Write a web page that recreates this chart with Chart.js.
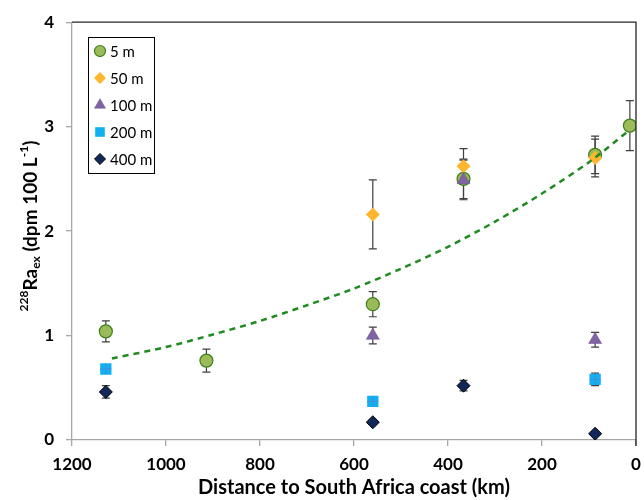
<!DOCTYPE html>
<html lang="en">
<head>
    <meta charset="UTF-8">
    <title>228Ra vs distance</title>
    <script src="https://cdn.jsdelivr.net/npm/chart.js"></script>
    <style>
        body { margin: 0; padding: 0; background: #fff; }
        .wrap { width: 644px; height: 500px; position: relative; }
    </style>
</head>
<body>
    <div class="wrap"><canvas id="chart"></canvas></div>

    <script>
        // distances (km) and 228Ra_ex values
        const dist5 = [1128, 914, 560, 367, 87, 13];
        const ra5 = [1.04, 0.76, 1.30, 2.50, 2.73, 3.01];
        const err5 = [0.10, 0.11, 0.12, 0.19, 0.18, 0.24];

        const dist50 = [560, 367, 87];
        const ra50 = [2.16, 2.62, 2.70];
        const err50 = [0.33, 0.17, 0.18];

        const dist100 = [560, 367, 87];
        const ra100 = [1.00, 2.49, 0.96];
        const err100 = [0.08, 0.19, 0.07];

        const dist200 = [1128, 560, 87];
        const ra200 = [0.68, 0.37, 0.58];
        const err200 = [0.04, 0.03, 0.06];

        const dist400 = [1128, 560, 367, 87];
        const ra400 = [0.46, 0.17, 0.52, 0.06];
        const err400 = [0.06, 0.02, 0.05, 0.02];

        // dashed trend line
        const trendDist = [1115, 1000, 900, 800, 700, 600, 500, 400, 300, 200, 100, 13];
        const trendRa = [0.78, 0.89, 1.01, 1.14, 1.29, 1.45, 1.64, 1.85, 2.09, 2.36, 2.66, 2.97];

        const xTicks = [1200, 1000, 800, 600, 400, 200, 0];
        const yTicks = [0, 1, 2, 3, 4];

        function pts(xs, ys, es) {
            return xs.map((x, i) => ({ x: x, y: ys[i], e: es ? es[i] : 0 }));
        }

        const series = [
            { label: '5 m', data: pts(dist5, ra5, err5), style: 'circle', bg: '#9BBB59', border: '#3C7F1C', r: 6.5, bw: 1.2, order: 5 },
            { label: '50 m', data: pts(dist50, ra50, err50), style: 'rectRot', bg: '#FFB52E', border: '#FFB52E', r: 7, bw: 0, order: 4 },
            { label: '100 m', data: pts(dist100, ra100, err100), style: 'triangle', bg: '#8064A2', border: '#6A4E8E', r: 7.5, bw: 0.5, order: 3 },
            { label: '200 m', data: pts(dist200, ra200, err200), style: 'rect', bg: '#12B0F2', border: '#12B0F2', r: 8, bw: 0, order: 2 },
            { label: '400 m', data: pts(dist400, ra400, err400), style: 'rectRot', bg: '#10295A', border: '#000000', r: 6.5, bw: 1, order: 1 }
        ];

        const datasets = series.map(s => ({
            label: s.label,
            data: s.data,
            pointStyle: s.style,
            pointRadius: s.r,
            pointBackgroundColor: s.bg,
            pointBorderColor: s.border,
            pointBorderWidth: s.bw,
            backgroundColor: s.bg,
            borderColor: s.border,
            showLine: false,
            order: s.order,
            errorBars: true
        }));

        datasets.push({
            label: 'trend',
            data: pts(trendDist, trendRa),
            showLine: true,
            borderColor: '#1F8B1F',
            borderWidth: 2.5,
            borderDash: [6, 5],
            pointRadius: 0,
            fill: false,
            tension: 0.3,
            order: 0
        });

        const errorBarPlugin = {
            id: 'errorBars',
            beforeDatasetsDraw(chart) {
                const ctx = chart.ctx;
                const x = chart.scales.x, y = chart.scales.y;
                ctx.save();
                ctx.strokeStyle = '#3F3F3F';
                ctx.lineWidth = 1.2;
                chart.data.datasets.forEach(ds => {
                    if (!ds.errorBars) return;
                    ds.data.forEach(p => {
                        if (!p.e) return;
                        const px = x.getPixelForValue(p.x);
                        const top = y.getPixelForValue(p.y + p.e);
                        const bot = y.getPixelForValue(p.y - p.e);
                        ctx.beginPath();
                        ctx.moveTo(px, top); ctx.lineTo(px, bot);
                        ctx.moveTo(px - 4, top); ctx.lineTo(px + 4, top);
                        ctx.moveTo(px - 4, bot); ctx.lineTo(px + 4, bot);
                        ctx.stroke();
                    });
                });
                ctx.restore();
            },
            afterDatasetsDraw(chart) {
                // little cross inside the 200 m squares
                const ctx = chart.ctx;
                const meta = chart.getDatasetMeta(3);
                ctx.save();
                ctx.strokeStyle = '#3E8FD8';
                ctx.lineWidth = 1;
                meta.data.forEach(el => {
                    ctx.beginPath();
                    ctx.moveTo(el.x - 5.5, el.y); ctx.lineTo(el.x + 5.5, el.y);
                    ctx.moveTo(el.x, el.y - 5.5); ctx.lineTo(el.x, el.y + 5.5);
                    ctx.stroke();
                });
                ctx.restore();
            }
        };

        const framePlugin = {
            id: 'frame',
            afterDraw(chart) {
                const ctx = chart.ctx;
                const a = chart.chartArea;
                ctx.save();
                // dark top and right border of the plot
                ctx.strokeStyle = '#262626';
                ctx.lineWidth = 1.3;
                ctx.beginPath();
                ctx.moveTo(a.left, a.top);
                ctx.lineTo(a.right, a.top);
                ctx.lineTo(a.right, a.bottom + 6);
                ctx.stroke();

                // legend box
                const lx = 88, ly = 37, lw = 66, lh = 136;
                ctx.fillStyle = '#fff';
                ctx.fillRect(lx, ly, lw, lh);
                ctx.strokeStyle = '#000';
                ctx.lineWidth = 1;
                ctx.strokeRect(lx + 0.5, ly + 0.5, lw, lh);
                ctx.font = '15px Lato';
                ctx.textBaseline = 'middle';
                series.forEach((s, i) => {
                    const cy = 51 + i * 27;
                    ctx.fillStyle = s.bg;
                    ctx.strokeStyle = s.border;
                    ctx.lineWidth = s.bw;
                    Chart.helpers.drawPoint(ctx, {
                        pointStyle: s.style,
                        radius: s.r * 0.85,
                        borderWidth: s.bw,
                        rotation: 0
                    }, 100, cy);
                    ctx.fillStyle = '#000';
                    ctx.fillText(s.label, 110, cy + 1);
                });

                // y axis title with super/subscripts
                const parts = [
                    { t: '228', f: 'bold 12px Lato', dy: -7 },
                    { t: 'Ra', f: 'bold 19px Lato', dy: 0 },
                    { t: 'ex', f: 'bold 12px Lato', dy: 5 },
                    { t: ' (dpm 100 L', f: 'bold 19px Lato', dy: 0 },
                    { t: '-1', f: 'bold 12px Lato', dy: -7 },
                    { t: ')', f: 'bold 19px Lato', dy: 0 }
                ];
                let total = 0;
                parts.forEach(p => { ctx.font = p.f; p.w = ctx.measureText(p.t).width; total += p.w; });
                ctx.translate(31, 226);
                ctx.rotate(-Math.PI / 2);
                ctx.fillStyle = '#000';
                ctx.textBaseline = 'middle';
                let cx = -total / 2;
                parts.forEach(p => {
                    ctx.font = p.f;
                    ctx.fillText(p.t, cx, p.dy);
                    cx += p.w;
                });
                ctx.restore();
            }
        };

        new Chart(document.getElementById('chart'), {
            type: 'scatter',
            data: { datasets: datasets },
            plugins: [errorBarPlugin, framePlugin],
            options: {
                responsive: true,
                maintainAspectRatio: false,
                animation: false,
                layout: { padding: { top: 21, right: 0, left: 0, bottom: 0 } },
                plugins: {
                    legend: { display: false },
                    tooltip: { enabled: false }
                },
                scales: {
                    x: {
                        type: 'linear',
                        reverse: true,
                        min: 0,
                        max: 1200,
                        afterBuildTicks: s => { s.ticks = xTicks.map(v => ({ value: v })); },
                        afterFit: s => { s.height = 60; s.paddingRight = 6; s.paddingLeft = 0; },
                        grid: { display: true, drawOnChartArea: false, drawTicks: true, tickLength: 6, color: '#A6A6A6', lineWidth: 1.3 },
                        border: { color: '#A6A6A6', width: 1.3 },
                        ticks: {
                            color: '#000',
                            font: { family: 'Lato', size: 17, weight: 'bold' },
                            padding: 8,
                            maxRotation: 0,
                            callback: v => String(v)
                        },
                        title: { display: true, text: 'Distance to South Africa coast (km)', color: '#000', font: { family: 'Lato', size: 20, weight: 'bold' }, padding: { top: 0, bottom: 0 } }
                    },
                    y: {
                        type: 'linear',
                        min: 0,
                        max: 4,
                        afterBuildTicks: s => { s.ticks = yTicks.map(v => ({ value: v })); },
                        afterFit: s => { s.width = 72; },
                        grid: { display: true, drawOnChartArea: false, drawTicks: true, tickLength: 6, color: '#A6A6A6', lineWidth: 1.3 },
                        border: { color: '#A6A6A6', width: 1.3 },
                        ticks: { color: '#000', font: { family: 'Lato', size: 17, weight: 'bold' }, padding: 12 }
                    }
                }
            }
        });
    </script>
</body>
</html>
